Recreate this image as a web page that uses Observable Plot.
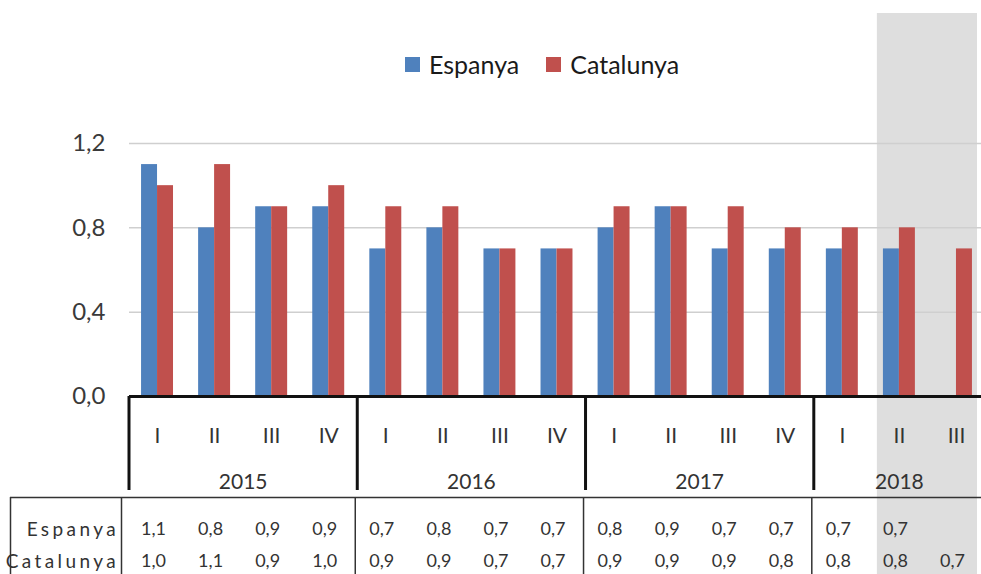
<!DOCTYPE html>
<html>
<head>
<meta charset="utf-8">
<script src="https://cdn.jsdelivr.net/npm/d3@7"></script>
<script src="https://cdn.jsdelivr.net/npm/@observablehq/plot@0.6"></script>
<style>
  body { margin: 0; background: #fff; font-family: Lato, "Open Sans", sans-serif; }
  #wrap { position: relative; width: 981px; height: 574px; overflow: hidden; }
  #legend { position: absolute; top: 49px; left: 405px; display: flex; align-items: center; font-size: 25px; color: #1a1a1a; }
  #legend .sw { width: 15px; height: 15px; display: inline-block; margin-right: 9px; }
  #legend .item { display: flex; align-items: center; margin-right: 27px; }
  g[aria-description="row-labels"] text { letter-spacing: 3.4px; }
</style>
</head>
<body>
<div id="wrap">
  <div id="chart"></div>
  <div id="legend"></div>
</div>
<script>
// ---- data ----
const quarters = ["I","II","III","IV","I","II","III","IV","I","II","III","IV","I","II","III"];
const years    = ["2015","2015","2015","2015","2016","2016","2016","2016","2017","2017","2017","2017","2018","2018","2018"];
const espanya   = [1.1,0.8,0.9,0.9, 0.7,0.8,0.7,0.7, 0.8,0.9,0.7,0.7, 0.7,0.7,null];
const catalunya = [1.0,1.1,0.9,1.0, 0.9,0.9,0.7,0.7, 0.9,0.9,0.9,0.8, 0.8,0.8,0.7];
const seriesNames = ["Espanya","Catalunya"];
const seriesColors = ["#4F81BD","#C0504D"];
const yTicks = [0, 0.4, 0.8, 1.2];
const shadedKeys = ["2018 II","2018 III"];

// ---- derived tables ----
const rows = quarters.map((q, i) => ({i, q, year: years[i], key: years[i] + " " + q}));
const seriesValues = [espanya, catalunya];
const bars = [];
seriesValues.forEach((vals, s) => vals.forEach((v, i) => { if (v != null) bars.push({i, s, name: seriesNames[s], v}); }));
const yearGroups = d3.groups(rows, d => d.year).map(([year, rs]) => ({year, start: rs[0].i, end: rs[rs.length - 1].i + 1}));
const shadedRows = rows.filter(d => shadedKeys.includes(d.key));
const shadedSpan = [{start: d3.min(shadedRows, d => d.i), end: d3.max(shadedRows, d => d.i) + 1}];
const fmt = v => v == null ? "" : d3.format(".1f")(v).replace(".", ",");

const W = 981, H = 574;
const txt = "#333";

const plot = Plot.plot({
  width: W, height: H,
  marginLeft: 129, marginRight: 0, marginTop: 0, marginBottom: 0,
  style: {fontFamily: "Lato, 'Open Sans', sans-serif", background: "transparent", overflow: "visible"},
  x: {type: "linear", domain: [0, rows.length], range: [128.5, 984.5], axis: null},
  y: {domain: [0, 1.2], range: [396, 143], axis: null},
  marks: [
    // shaded forecast columns
    Plot.rect(shadedSpan, {x1: "start", x2: "end", fill: "#dedede", insetLeft: 6.5, insetRight: 7.5, insetTop: 13}),
    // gridlines
    Plot.ruleY(yTicks.filter(t => t > 0), {stroke: "#cfcfcf", strokeWidth: 1.5}),
    // bars
    Plot.rectY(bars, {
      x1: d => d.i + (d.s === 0 ? 0.22 : 0.5),
      x2: d => d.i + (d.s === 0 ? 0.5 : 0.78),
      y1: 0, y2: "v",
      fill: d => seriesColors[d.s]
    }),
    // y axis labels
    Plot.axisY(yTicks, {tickSize: 0, tickPadding: 24, fontSize: 24, fill: "#3a3a3a", tickFormat: fmt, label: null}),
    // baseline
    Plot.ruleY([0], {stroke: "#111", strokeWidth: 3}),
    // year separators in the category axis
    Plot.ruleX(yearGroups, {x: "start", stroke: "#111", strokeWidth: 3, insetTop: 396, insetBottom: 84}),
    // quarter labels
    Plot.text(rows, {x: d => d.i + 0.5, text: "q", frameAnchor: "top", dy: 428, fontSize: 21, fill: txt}),
    // year labels
    Plot.text(yearGroups, {x: d => (d.start + d.end) / 2, text: "year", frameAnchor: "top", dy: 474, fontSize: 21, fill: txt}),
    // data table
    Plot.ruleY([0], {stroke: "#333", strokeWidth: 1.5, dy: 101, insetLeft: -119}),
    Plot.ruleX([0], {stroke: "#333", strokeWidth: 1.5, dx: -118.5, insetTop: 497}),
    Plot.ruleX([0], {stroke: "#333", strokeWidth: 1.5, dx: -7.5, insetTop: 497}),
    Plot.ruleX(yearGroups.slice(1), {x: "start", stroke: "#333", strokeWidth: 1.5, dx: -2, insetTop: 497}),
    Plot.text(rows, {x: d => d.i + 0.5, text: d => fmt(espanya[d.i]), frameAnchor: "top", dy: 522, dx: -4, fontSize: 18, fill: txt}),
    Plot.text(rows, {x: d => d.i + 0.5, text: d => fmt(catalunya[d.i]), frameAnchor: "top", dy: 554, dx: -4, fontSize: 18, fill: txt}),
    Plot.text([seriesNames[0]], {x: () => 0, text: d => d, frameAnchor: "top", dy: 522, dx: -10, textAnchor: "end", fontSize: 19, fill: txt, ariaDescription: "row-labels"}),
    Plot.text([seriesNames[1]], {x: () => 0, text: d => d, frameAnchor: "top", dy: 554, dx: -10, textAnchor: "end", fontSize: 19, fill: txt, ariaDescription: "row-labels"})
  ]
});
d3.select(plot).selectAll('g[aria-description="row-labels"] text').style("letter-spacing", "3.4px");
document.getElementById("chart").appendChild(plot);

// legend
const legend = document.getElementById("legend");
seriesNames.forEach((n, s) => {
  const item = document.createElement("div");
  item.className = "item";
  const sw = document.createElement("span");
  sw.className = "sw";
  sw.style.background = seriesColors[s];
  item.appendChild(sw);
  item.appendChild(document.createTextNode(n));
  legend.appendChild(item);
});
</script>
</body>
</html>
